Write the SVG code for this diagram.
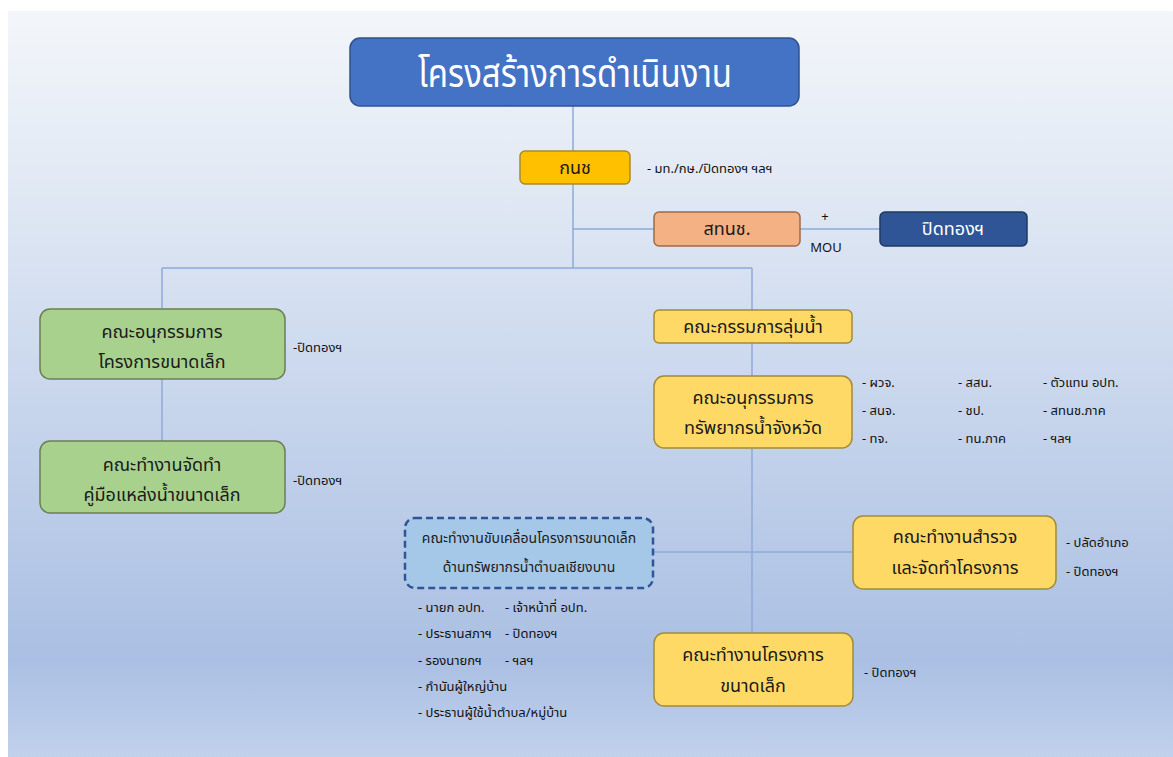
<svg xmlns="http://www.w3.org/2000/svg" width="1173" height="757" viewBox="0 0 1173 757">
<defs>
<linearGradient id="bg" x1="0" y1="0" x2="0" y2="1">
<stop offset="0" stop-color="#f3f6fa"/>
<stop offset="0.2" stop-color="#e4ebf5"/>
<stop offset="0.87" stop-color="#aabfe3"/>
<stop offset="1" stop-color="#c1d1ec"/>
</linearGradient>
<style>
text{font-family:"Noto Sans Thai","Noto Sans","DejaVu Sans",sans-serif;fill:#1a1a1a}
.c{text-anchor:middle}
.n{font-size:18px}
.l{font-size:13px;fill:#111111}
.w{fill:#ffffff}
.con line{stroke:#8eaadb;stroke-width:1.5;fill:none}
.y{fill:#ffd966;stroke:#a38b3a;stroke-width:1.5}
.g{fill:#a9d18e;stroke:#6b7f53;stroke-width:1.5}
</style>
</defs>
<rect x="0" y="0" width="1173" height="757" fill="#ffffff"/>
<rect x="8" y="11" width="1165" height="746" fill="url(#bg)"/>
<g class="con" id="connectors">
<line x1="573" y1="106" x2="573" y2="268"/>
<line x1="573" y1="229" x2="654" y2="229"/>
<line x1="800" y1="229" x2="880" y2="229"/>
<line x1="162" y1="268" x2="752" y2="268"/>
<line x1="162" y1="268" x2="162" y2="309"/>
<line x1="162" y1="379" x2="162" y2="441"/>
<line x1="752" y1="268" x2="752" y2="310"/>
<line x1="752" y1="343" x2="752" y2="376"/>
<line x1="752" y1="448" x2="752" y2="633"/>
<line x1="653" y1="552" x2="853" y2="552"/>
</g>
<g id="title">
<rect x="350" y="38" width="449" height="68" rx="10" fill="#4472c4" stroke="#2f528f" stroke-width="1.5"/>
<text x="575" y="87" class="c w" style="font-size:40px" textLength="314" lengthAdjust="spacingAndGlyphs">โครงสร้างการดำเนินงาน</text>
</g>
<g id="n-knc">
<rect x="520" y="151" width="110" height="33" rx="5" fill="#ffc000" stroke="#a88a2c" stroke-width="1.5"/>
<text x="575" y="174" class="c n">กนช</text>
</g>
<text x="647" y="173" class="l">- มท./กษ./ปิดทองฯ ฯลฯ</text>
<g id="n-stnc">
<rect x="654" y="212" width="146" height="34" rx="5" fill="#f4b183" stroke="#9e6a4a" stroke-width="1.5"/>
<text x="727" y="235" class="c n">สทนช.</text>
</g>
<text x="825" y="221" class="c l">+</text>
<text x="826" y="252" class="c l">MOU</text>
<g id="n-pidthong">
<rect x="880" y="212" width="147" height="34" rx="5" fill="#2f5597" stroke="#203864" stroke-width="1.5"/>
<text x="953" y="235" class="c n w">ปิดทองฯ</text>
</g>
<g id="n-subsmall">
<rect x="40" y="309" width="245" height="70" rx="10" class="g"/>
<text x="162" y="338" class="c n">คณะอนุกรรมการ</text>
<text x="162" y="368" class="c n">โครงการขนาดเล็ก</text>
</g>
<text x="293" y="352" class="l">-ปิดทองฯ</text>
<g id="n-manual">
<rect x="40" y="441" width="245" height="72" rx="10" class="g"/>
<text x="162" y="471" class="c n">คณะทำงานจัดทำ</text>
<text x="162" y="501" class="c n">คู่มือแหล่งน้ำขนาดเล็ก</text>
</g>
<text x="293" y="485" class="l">-ปิดทองฯ</text>
<g id="n-basin">
<rect x="654" y="310" width="198" height="33" rx="5" class="y"/>
<text x="753" y="333" class="c n">คณะกรรมการลุ่มน้ำ</text>
</g>
<g id="n-province">
<rect x="654" y="376" width="198" height="72" rx="10" class="y"/>
<text x="753" y="404" class="c n">คณะอนุกรรมการ</text>
<text x="753" y="434" class="c n">ทรัพยากรน้ำจังหวัด</text>
</g>
<g id="province-members">
<text x="862" y="387" class="l">- ผวจ.</text>
<text x="862" y="415" class="l">- สนจ.</text>
<text x="862" y="443" class="l">- ทจ.</text>
<text x="958" y="387" class="l">- สสน.</text>
<text x="958" y="415" class="l">- ชป.</text>
<text x="958" y="443" class="l">- ทน.ภาค</text>
<text x="1043" y="387" class="l">- ตัวแทน อปท.</text>
<text x="1043" y="415" class="l">- สทนช.ภาค</text>
<text x="1043" y="443" class="l">- ฯลฯ</text>
</g>
<g id="n-drive">
<rect x="405" y="518" width="248" height="70" rx="10" fill="#a6c8e8" stroke="#2f5597" stroke-width="2.5" stroke-dasharray="7,4"/>
<text x="529" y="543" class="c" style="font-size:14px">คณะทำงานขับเคลื่อนโครงการขนาดเล็ก</text>
<text x="529" y="572" class="c" style="font-size:14px">ด้านทรัพยากรน้ำตำบลเชียงบาน</text>
</g>
<g id="drive-members">
<text x="418" y="612" class="l">- นายก อปท.</text>
<text x="418" y="638" class="l">- ประธานสภาฯ</text>
<text x="418" y="665" class="l">- รองนายกฯ</text>
<text x="418" y="691" class="l">- กำนันผู้ใหญ่บ้าน</text>
<text x="418" y="717" class="l">- ประธานผู้ใช้น้ำตำบล/หมู่บ้าน</text>
<text x="505" y="612" class="l">- เจ้าหน้าที่ อปท.</text>
<text x="505" y="638" class="l">- ปิดทองฯ</text>
<text x="505" y="665" class="l">- ฯลฯ</text>
</g>
<g id="n-survey">
<rect x="853" y="516" width="203" height="73" rx="10" class="y"/>
<text x="955" y="543" class="c n">คณะทำงานสำรวจ</text>
<text x="955" y="574" class="c n">และจัดทำโครงการ</text>
</g>
<text x="1066" y="547" class="l">- ปลัดอำเภอ</text>
<text x="1066" y="576" class="l">- ปิดทองฯ</text>
<g id="n-smallproj">
<rect x="654" y="633" width="199" height="73" rx="10" class="y"/>
<text x="753" y="661" class="c n">คณะทำงานโครงการ</text>
<text x="753" y="692" class="c n">ขนาดเล็ก</text>
</g>
<text x="864" y="677" class="l">- ปิดทองฯ</text>
</svg>
